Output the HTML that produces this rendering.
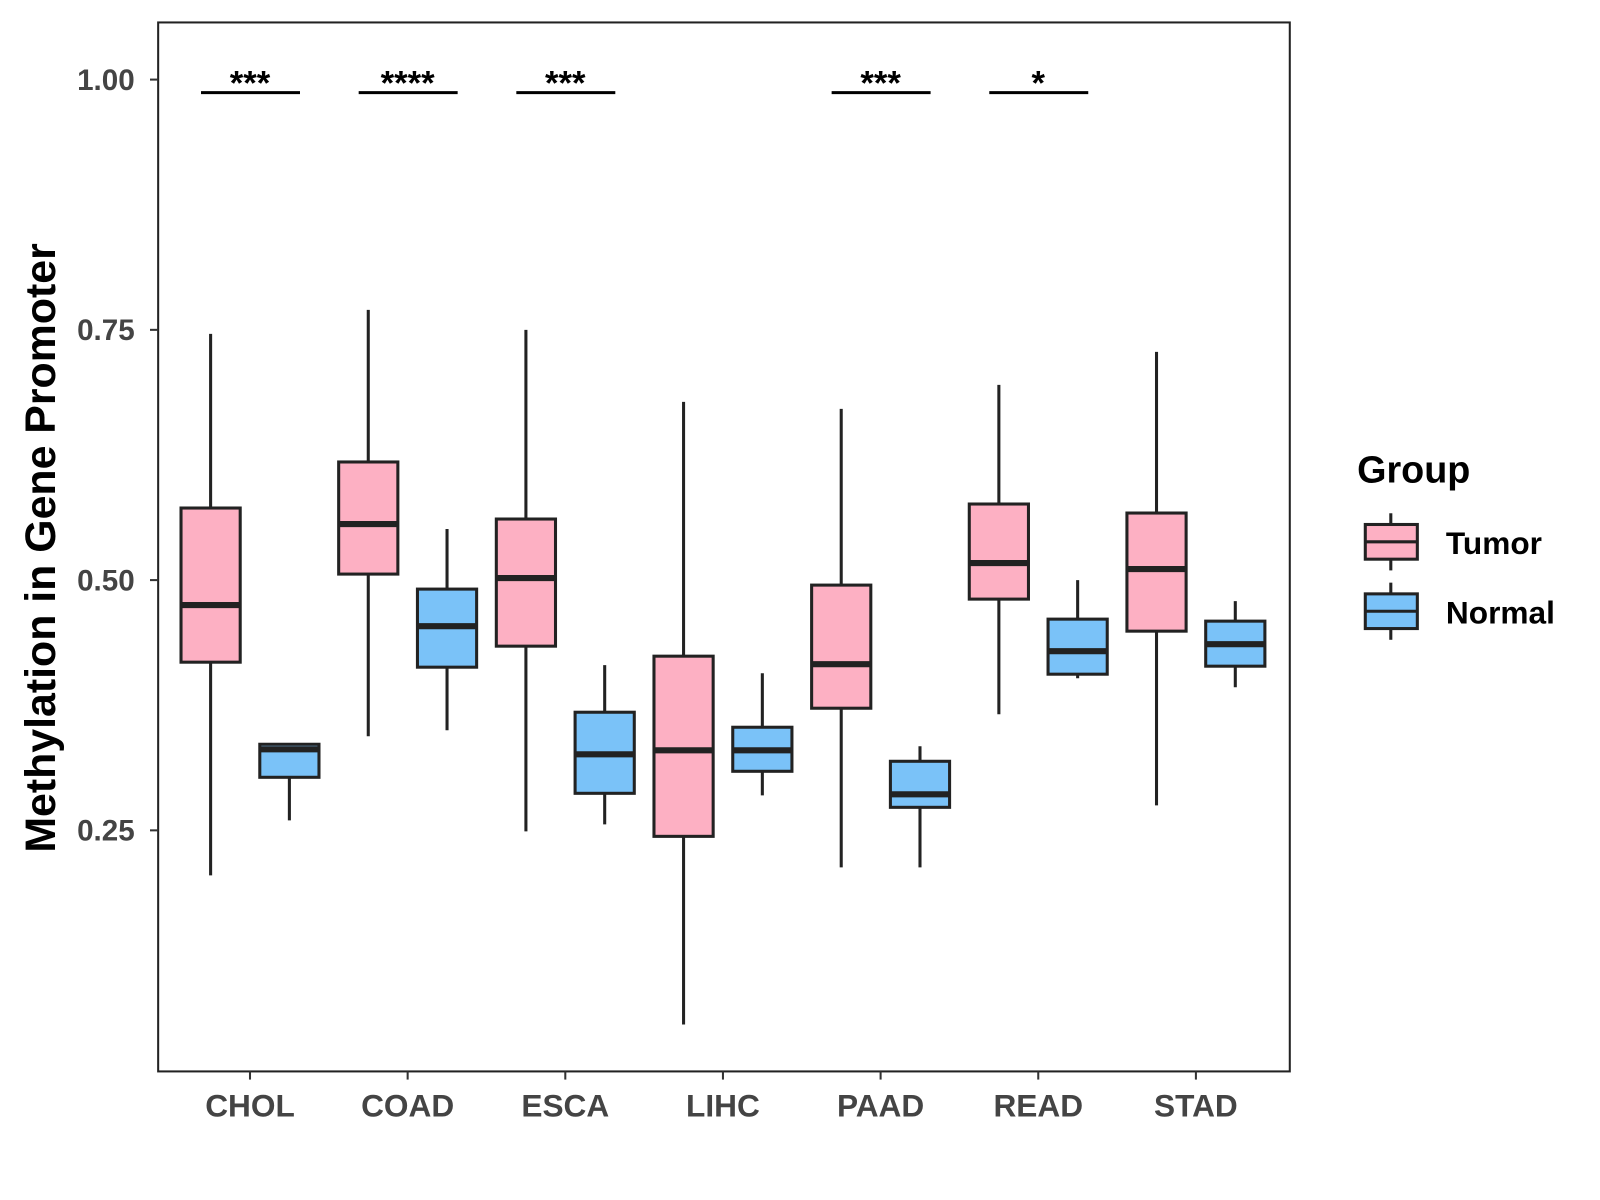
<!DOCTYPE html>
<html><head><meta charset="utf-8"><style>
html,body{margin:0;padding:0;background:#fff;}
svg{display:block;font-family:"Liberation Sans",Arial,sans-serif;}
</style></head><body>
<svg id="chart" width="1600" height="1200" viewBox="0 0 1600 1200">
<g transform="scale(1.0204)">
<rect x="155" y="22" width="1109" height="1028" fill="#fff" stroke="#222" stroke-width="2"/>
<g id="marks"></g>
<g id="axes"></g>
<text transform="translate(54,537) rotate(-90)" text-anchor="middle" font-size="42" font-weight="bold" fill="#000">Methylation in Gene Promoter</text>
<g>
<text x="1330" y="473" font-size="37" font-weight="bold" fill="#000">Group</text>
<g>
<line x1="1363" y1="503" x2="1363" y2="559" stroke="#222" stroke-width="3"/>
<rect x="1338" y="514" width="51" height="34" fill="#FDB0C3" stroke="#222" stroke-width="3"/>
<line x1="1338" y1="531" x2="1389" y2="531" stroke="#222" stroke-width="3"/>
<text x="1417" y="543" font-size="31" font-weight="bold" fill="#000">Tumor</text>
</g>
<g>
<line x1="1363" y1="571" x2="1363" y2="627" stroke="#222" stroke-width="3"/>
<rect x="1338" y="582" width="51" height="34" fill="#7AC2F8" stroke="#222" stroke-width="3"/>
<line x1="1338" y1="599" x2="1389" y2="599" stroke="#222" stroke-width="3"/>
<text x="1417" y="611" font-size="31" font-weight="bold" fill="#000">Normal</text>
</g>
</g>
</g>
</svg>
<script>
const categories = ["CHOL","COAD","ESCA","LIHC","PAAD","READ","STAD"];
// [min, q1, median, q3, max]
const tumorStats = [
 [0.205,0.418,0.475,0.572,0.746],
 [0.344,0.506,0.556,0.618,0.770],
 [0.249,0.434,0.502,0.561,0.750],
 [0.056,0.244,0.330,0.424,0.678],
 [0.213,0.372,0.416,0.495,0.671],
 [0.366,0.481,0.517,0.576,0.695],
 [0.275,0.449,0.511,0.567,0.728]
];
const normalStats = [
 [0.260,0.303,0.331,0.336,0.337],
 [0.350,0.413,0.454,0.491,0.551],
 [0.256,0.287,0.326,0.368,0.415],
 [0.285,0.309,0.330,0.353,0.407],
 [0.213,0.273,0.286,0.319,0.334],
 [0.402,0.406,0.429,0.461,0.500],
 [0.393,0.414,0.436,0.459,0.479]
];
const significance = ["***","****","***","","***","*",""];
const yTicks = [0.25,0.50,0.75,1.00];
const yTickLabels = ["0.25","0.50","0.75","1.00"];
const sigLevel = 0.987;

const NS="http://www.w3.org/2000/svg";
function yScale(v){return 78+(1-v)*981;}
function xScale(i){return 245+i*154.5;}
function mk(tag,attrs,parent){const e=document.createElementNS(NS,tag);for(const k in attrs)e.setAttribute(k,attrs[k]);parent.appendChild(e);return e;}
const marks=document.getElementById('marks'), axes=document.getElementById('axes');
const off=38.6, hw=29;
function drawBox(s,cx,fill,name){
  const g=mk('g',{},marks);
  
  
  mk('line',{x1:cx,x2:cx,y1:yScale(s[4]),y2:yScale(s[0]),stroke:'#222','stroke-width':3},g);
  mk('rect',{x:cx-hw,y:yScale(s[3]),width:2*hw,height:yScale(s[1])-yScale(s[3]),fill:fill,stroke:'#222','stroke-width':3},g);
  mk('line',{x1:cx-hw,x2:cx+hw,y1:yScale(s[2]),y2:yScale(s[2]),stroke:'#222','stroke-width':6},g);
}
categories.forEach((c,i)=>{
  const cx=xScale(i);
  drawBox(tumorStats[i],cx-off,'#FDB0C3','box-tumor-'+c.toLowerCase());
  drawBox(normalStats[i],cx+off,'#7AC2F8','box-normal-'+c.toLowerCase());
  mk('line',{x1:cx,x2:cx,y1:1050,y2:1058,stroke:'#333','stroke-width':2},axes);
  const t=mk('text',{x:cx,y:1094,'text-anchor':'middle','font-size':31,'font-weight':'bold',fill:'#444'},axes);
  t.textContent=c;
  
  
  if(significance[i]){
    const g=mk('g',{},marks);
    
    
    const y=yScale(sigLevel);
    mk('line',{x1:cx-48,x2:cx+49,y1:y,y2:y,stroke:'#000','stroke-width':3},g);
    const st=mk('text',{x:cx,y:y+2,'text-anchor':'middle','font-size':34,'font-weight':'bold',fill:'#000'},g);
    st.textContent=significance[i];
  }
});
yTicks.forEach((v,i)=>{
  const y=yScale(v);
  mk('line',{x1:147,x2:155,y1:y,y2:y,stroke:'#333','stroke-width':2},axes);
  const t=mk('text',{x:132,y:y+10,'text-anchor':'end','font-size':29,'font-weight':'bold',fill:'#444'},axes);
  t.textContent=yTickLabels[i];
  
  
});
</script>
</body></html>
